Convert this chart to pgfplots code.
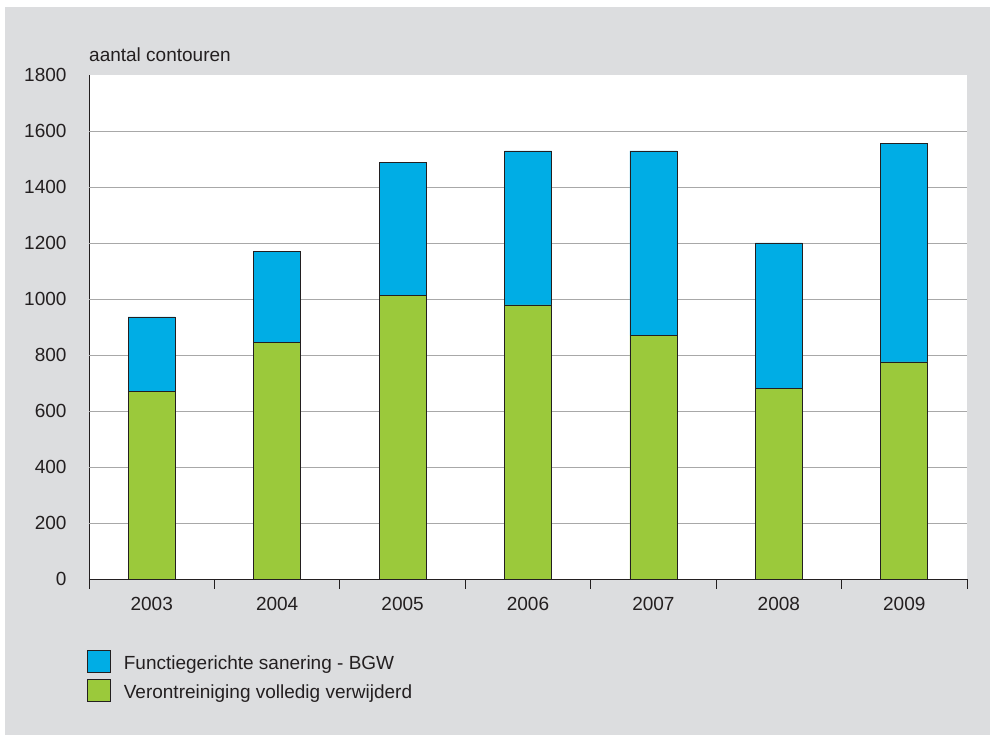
\documentclass[border=0pt]{standalone}
\usepackage{pgfplots}
\pgfplotsset{compat=1.18}
\usepackage{fontspec}
\setmainfont{Liberation Sans}
\definecolor{bgGray}{HTML}{DCDDDF}
\definecolor{barBlue}{HTML}{00ADE5}
\definecolor{barGreen}{HTML}{9BC93B}
\definecolor{gridGray}{HTML}{A8A8A8}
\definecolor{txt}{HTML}{231F20}
\begin{document}
\begin{tikzpicture}[x=1pt,y=1pt]
\fill[white] (0,0) rectangle (990,735);
\fill[bgGray] (5,0) rectangle (990,728);
\begin{axis}[
  at={(89pt,156pt)}, anchor=south west,
  scale only axis, width=878pt, height=504pt,
  axis background/.style={fill=white},
  ybar stacked, bar width=47pt,
  xmin=-0.5, xmax=6.5, ymin=0, ymax=1800,
  axis x line*=bottom, axis y line*=left,
  axis line style={draw=txt, line width=0.9pt},
  ytick={0,200,...,1800},
  ytick style={draw=none},
  xtick={-0.5,0.5,...,6.5},
  xticklabels={},
  xtick style={draw=txt, line width=0.9pt},
  tick align=outside, major tick length=10pt,
  extra x ticks={0,1,2,3,4,5,6},
  extra x tick labels={2003,2004,2005,2006,2007,2008,2009},
  extra x tick style={major tick length=0pt, tick style={draw=none}},
  extra y ticks={200,400,...,1600},
  extra y tick labels={},
  extra y tick style={ymajorgrids=true, major tick length=0pt},
  major grid style={draw=gridGray, line width=0.8pt},
  tick label style={font=\fontsize{19}{21}\selectfont, text=txt},
  yticklabel style={xshift=-9pt},
  xticklabel style={yshift=-15pt},
  /pgf/number format/assume math mode=true,
  /pgf/number format/set thousands separator={},
  legend style={at={(-5pt,-69pt)}, anchor=north west, draw=none, fill=none,
    font=\fontsize{19}{21}\selectfont, text=txt, row sep=6pt,
    /tikz/every even column/.append style={column sep=0pt}},
  legend cell align=left,
  reverse legend,
  legend image code/.code={\draw[#1, draw=txt, line width=0.6pt] (0pt,-8.5pt) rectangle (23pt,13pt); \path (34pt,0pt);},
  clip=false,
]
\addplot[fill=barGreen, draw=txt, line width=0.7pt] coordinates {(0,671) (1,846) (2,1014) (3,979) (4,871) (5,682) (6,775)};
\addlegendentry{Verontreiniging volledig verwijderd}
\addplot[fill=barBlue, draw=txt, line width=0.7pt] coordinates {(0,265) (1,325) (2,475) (3,550) (4,658) (5,518) (6,782)};
\addlegendentry{Functiegerichte sanering - BGW}
\node[anchor=south west, font=\fontsize{19}{21}\selectfont, text=txt, inner sep=0pt] at (rel axis cs:0,1) [yshift=13pt] {aantal contouren};
\end{axis}
\end{tikzpicture}
\end{document}
